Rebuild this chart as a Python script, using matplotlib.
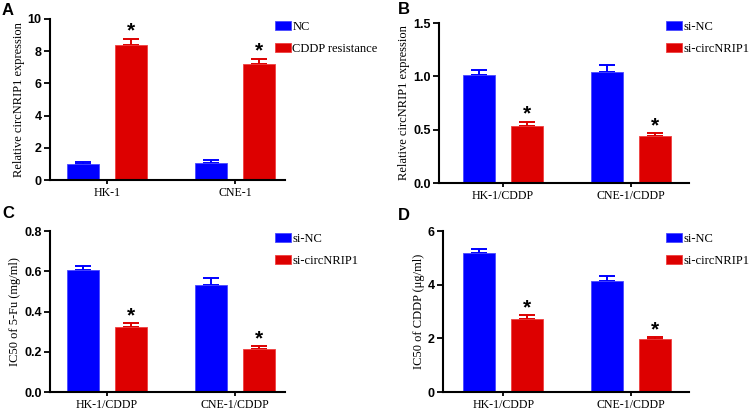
import numpy as np
import matplotlib
matplotlib.use('Agg')
import matplotlib.pyplot as plt

# Panel data (mean, upper error)
groupsA = ['HK-1', 'CNE-1']
groupsBCD = ['HK-1/CDDP', 'CNE-1/CDDP']

legendA = ['NC', 'CDDP resistance']
legendBCD = ['si-NC', 'si-circNRIP1']

A_blue = [1.01, 1.05]
A_blue_err = [0.09, 0.17]
A_red = [8.40, 7.23]
A_red_err = [0.38, 0.31]

B_blue = [1.01, 1.04]
B_blue_err = [0.05, 0.07]
B_red = [0.535, 0.44]
B_red_err = [0.04, 0.03]

C_blue = [0.607, 0.534]
C_blue_err = [0.02, 0.033]
C_red = [0.324, 0.212]
C_red_err = [0.018, 0.016]

D_blue = [5.19, 4.15]
D_blue_err = [0.14, 0.17]
D_red = [2.73, 1.99]
D_red_err = [0.13, 0.06]

yticksA = [0, 2, 4, 6, 8, 10]
yticksB = [0.0, 0.5, 1.0, 1.5]
yticksC = [0.0, 0.2, 0.4, 0.6, 0.8]
yticksD = [0, 2, 4, 6]

BLUE = '#0000ff'
RED = '#dd0000'
W, H = 753, 411

fig = plt.figure(figsize=(W / 100, H / 100), dpi=100)


def px_axes(left, right, top, bottom):
    return fig.add_axes([left / W, 1 - bottom / H, (right - left) / W, (bottom - top) / H])


def panel(ax, groups, blue, blue_err, red, red_err, yticks, fmt, ylabel,
          labels, xlim, leg_xy, letter, letter_xy):
    x = np.arange(len(groups))
    off = 0.1875
    bw = 0.25
    ax.bar(x - off, blue, bw, color=BLUE, edgecolor='#4a4aff', linewidth=0.6,
           label=labels[0], zorder=2)
    ax.bar(x + off, red, bw, color=RED, edgecolor='#f04040', linewidth=0.6,
           label=labels[1], zorder=2)
    ax.errorbar(x - off, blue, yerr=[np.zeros(len(blue)), blue_err], fmt='none',
                ecolor=BLUE, elinewidth=1.4, capsize=5.5, capthick=1.4, zorder=1)
    ax.errorbar(x + off, red, yerr=[np.zeros(len(red)), red_err], fmt='none',
                ecolor=RED, elinewidth=1.4, capsize=5.5, capthick=1.4, zorder=1)
    for xi, v, e in zip(x + off, red, red_err):
        ax.annotate('*', (xi, v + e), xytext=(0, -1.5), textcoords='offset points',
                    ha='center', va='bottom', fontsize=15, fontweight='bold',
                    family='Liberation Sans')
    ax.set_xlim(*xlim)
    ax.set_ylim(yticks[0], yticks[-1])
    ax.set_yticks(yticks)
    ax.set_yticklabels([fmt.format(t) for t in yticks], fontsize=9,
                       fontweight='bold', family='Liberation Sans')
    ax.set_xticks(x)
    ax.set_xticklabels(groups, fontsize=8.6, family='Liberation Serif')
    ax.set_ylabel(ylabel, fontsize=9, family='Liberation Serif', labelpad=2)
    for s in ['top', 'right']:
        ax.spines[s].set_visible(False)
    for s in ['left', 'bottom']:
        ax.spines[s].set_linewidth(1.5)
    ax.tick_params(width=1.3, length=4, pad=2)
    ax.tick_params(axis='x', length=3)
    ax.legend(loc='upper left', bbox_to_anchor=(leg_xy[0] / W, 1 - leg_xy[1] / H),
              bbox_transform=fig.transFigure, frameon=False,
              prop={'family': 'Liberation Serif', 'size': 9},
              handlelength=1.3, handleheight=0.75, handletextpad=0.1,
              labelspacing=0.8, borderpad=0, borderaxespad=0)
    fig.text(letter_xy[0] / W, 1 - letter_xy[1] / H, letter, fontsize=12,
             fontweight='bold', family='Liberation Sans', va='top', ha='left')


axA = px_axes(50, 285, 19, 180)
panel(axA, groupsA, A_blue, A_blue_err, A_red, A_red_err, yticksA, '{:g}',
      'Relative circNRIP1 expression', legendA, (-0.445, 1.39), (275, 21), 'A', (2, 3))

axB = px_axes(439, 689, 23, 183)
panel(axB, groupsBCD, B_blue, B_blue_err, B_red, B_red_err, yticksB, '{:.1f}',
      'Relative circNRIP1 expression', legendBCD, (-0.5, 1.45), (666, 21), 'B', (398, 2))

axC = px_axes(50, 285, 231, 392)
panel(axC, groupsBCD, C_blue, C_blue_err, C_red, C_red_err, yticksC, '{:.1f}',
      'IC50 of 5-Fu (mg/ml)', legendBCD, (-0.445, 1.39), (275, 233), 'C', (2, 206))

axD = px_axes(443, 689, 231, 392)
panel(axD, groupsBCD, D_blue, D_blue_err, D_red, D_red_err, yticksD, '{:g}',
      'IC50 of CDDP (\u03bcg/ml)', legendBCD, (-0.47, 1.45), (666, 233), 'D', (398, 208))

plt.savefig('out.png', dpi=100)
